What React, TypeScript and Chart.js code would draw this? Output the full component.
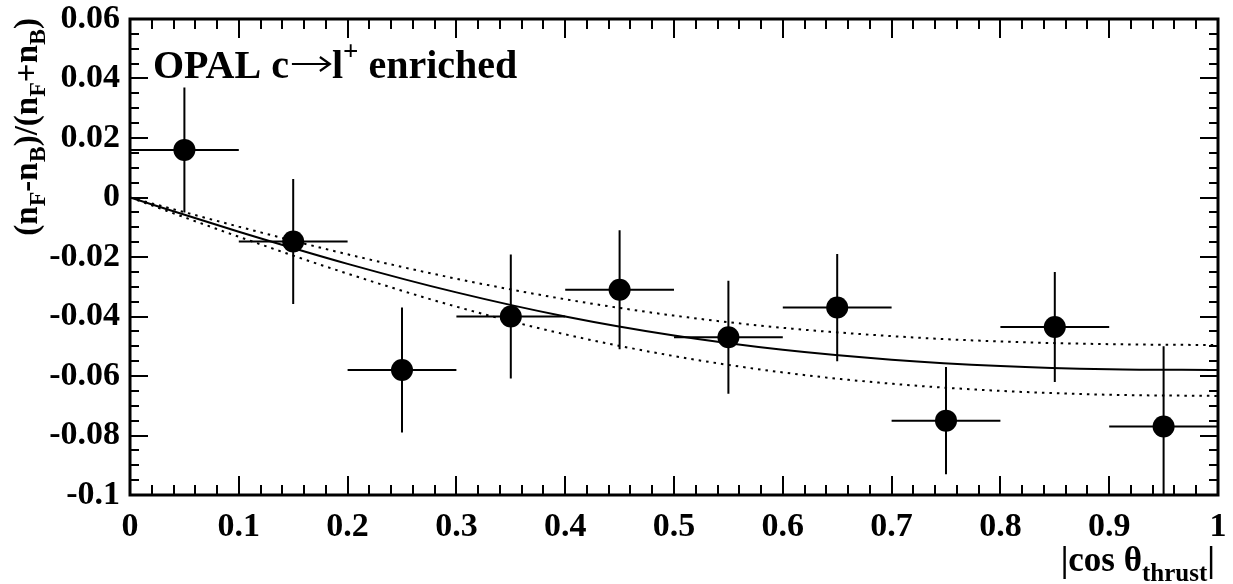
import { useEffect, useRef } from "react";
import { Chart, registerables } from "chart.js";

Chart.register(...registerables);

// ---- data ----
const binCenters = [0.05, 0.15, 0.25, 0.35, 0.45, 0.55, 0.65, 0.75, 0.85, 0.95];
const binHalfWidths = [0.05, 0.05, 0.05, 0.05, 0.05, 0.05, 0.05, 0.05, 0.05, 0.05];
const asymmetry = [0.016, -0.0148, -0.058, -0.04, -0.031, -0.047, -0.037, -0.075, -0.0435, -0.077];
const asymmetryErr = [0.021, 0.021, 0.021, 0.0208, 0.02, 0.019, 0.018, 0.018, 0.0185, 0.027];

const curveX = [0, 0.1, 0.2, 0.3, 0.4, 0.5, 0.6, 0.7, 0.8, 0.9, 1.0];
const fitCentral = [0, -0.0115, -0.0223, -0.0319, -0.04, -0.0464, -0.0512, -0.0545, -0.0566, -0.0577, -0.058];
const fitUpper = [0, -0.0098, -0.0191, -0.0273, -0.0342, -0.0397, -0.0438, -0.0466, -0.0484, -0.0493, -0.0496];
const fitLower = [0, -0.0132, -0.0256, -0.0367, -0.046, -0.0533, -0.0588, -0.0626, -0.065, -0.0663, -0.0667];

const xTickLabels: Record<string, string> = {
  "0": "0", "0.1": "0.1", "0.2": "0.2", "0.3": "0.3", "0.4": "0.4", "0.5": "0.5",
  "0.6": "0.6", "0.7": "0.7", "0.8": "0.8", "0.9": "0.9", "1": "1",
};
const yTickLabels: Record<string, string> = {
  "0.06": "0.06", "0.04": "0.04", "0.02": "0.02", "0": "0", "-0.02": "-0.02",
  "-0.04": "-0.04", "-0.06": "-0.06", "-0.08": "-0.08", "-0.1": "-0.1",
};

const FONT = '"Liberation Serif", "Times New Roman", Times, serif';

type Seg = { t: string; size: number; dy: number };

function segWidth(ctx: CanvasRenderingContext2D, segs: Seg[]) {
  let w = 0;
  for (const s of segs) {
    ctx.font = `bold ${s.size}px ${FONT}`;
    w += ctx.measureText(s.t).width;
  }
  return w;
}

function drawSegs(ctx: CanvasRenderingContext2D, segs: Seg[], x: number, y: number) {
  let cx = x;
  ctx.textBaseline = "alphabetic";
  ctx.textAlign = "left";
  for (const s of segs) {
    ctx.font = `bold ${s.size}px ${FONT}`;
    ctx.fillText(s.t, cx, y + s.dy);
    cx += ctx.measureText(s.t).width;
  }
  return cx;
}

const key = (v: number) => String(Math.round(v * 1000) / 1000);

const decorPlugin = {
  id: "rootDecor",
  beforeDatasetsDraw(chart: any) {
    const { ctx, chartArea: a, scales } = chart;
    const xs = scales.x;
    const ys = scales.y;
    ctx.save();
    ctx.beginPath();
    ctx.rect(a.left, a.top, a.right - a.left, a.bottom - a.top);
    ctx.clip();
    ctx.strokeStyle = "#000";
    ctx.lineWidth = 2;
    for (let i = 0; i < binCenters.length; i++) {
      const px = xs.getPixelForValue(binCenters[i]);
      const py = ys.getPixelForValue(asymmetry[i]);
      const x0 = xs.getPixelForValue(binCenters[i] - binHalfWidths[i]);
      const x1 = xs.getPixelForValue(binCenters[i] + binHalfWidths[i]);
      const y0 = ys.getPixelForValue(asymmetry[i] + asymmetryErr[i]);
      const y1 = ys.getPixelForValue(asymmetry[i] - asymmetryErr[i]);
      ctx.beginPath();
      ctx.moveTo(x0, py);
      ctx.lineTo(x1, py);
      ctx.moveTo(px, y0);
      ctx.lineTo(px, y1);
      ctx.stroke();
    }
    ctx.restore();
  },
  afterDraw(chart: any) {
    const { ctx, chartArea: a, scales } = chart;
    const xs = scales.x;
    const ys = scales.y;
    ctx.save();
    ctx.strokeStyle = "#000";
    ctx.fillStyle = "#000";
    // ticks
    ctx.lineWidth = 2;
    ctx.beginPath();
    for (let i = 0; i <= 50; i++) {
      const v = i * 0.02;
      const px = Math.round(xs.getPixelForValue(v));
      const len = i % 5 === 0 ? 19 : 10;
      ctx.moveTo(px, a.bottom);
      ctx.lineTo(px, a.bottom - len);
      ctx.moveTo(px, a.top);
      ctx.lineTo(px, a.top + len);
    }
    for (let i = 0; i <= 32; i++) {
      const v = -0.1 + i * 0.005;
      const py = Math.round(ys.getPixelForValue(v));
      const len = i % 4 === 0 ? 18 : 9;
      ctx.moveTo(a.left, py);
      ctx.lineTo(a.left + len, py);
      ctx.moveTo(a.right, py);
      ctx.lineTo(a.right - len, py);
    }
    ctx.stroke();
    // frame
    ctx.lineWidth = 3;
    ctx.strokeRect(a.left, a.top, a.right - a.left, a.bottom - a.top);

    // label inside the plot: OPAL c -> l+ enriched
    const base = 78;
    let cx = drawSegs(ctx, [{ t: "OPAL c", size: 40, dy: 0 }], 153, base);
    const ax0 = cx + 3;
    const ax1 = ax0 + 38;
    const ay = base - 14;
    ctx.lineWidth = 2.2;
    ctx.beginPath();
    ctx.moveTo(ax0, ay);
    ctx.lineTo(ax1, ay);
    ctx.moveTo(ax1 - 10, ay - 7);
    ctx.lineTo(ax1, ay);
    ctx.lineTo(ax1 - 10, ay + 7);
    ctx.stroke();
    cx = ax1 + 2;
    drawSegs(
      ctx,
      [
        { t: "l", size: 40, dy: 0 },
        { t: "+", size: 27, dy: -18 },
        { t: " enriched", size: 40, dy: 0 },
      ],
      cx,
      base
    );

    // x title
    const xt: Seg[] = [
      { t: "|cos \u03b8", size: 35, dy: 0 },
      { t: "thrust", size: 25, dy: 10 },
      { t: "|", size: 35, dy: 0 },
    ];
    const xw = segWidth(ctx, xt);
    drawSegs(ctx, xt, 1215 - xw, 571);

    // y title (rotated)
    const yt: Seg[] = [
      { t: "(n", size: 33, dy: 0 },
      { t: "F", size: 24, dy: 8 },
      { t: "-n", size: 33, dy: 0 },
      { t: "B", size: 24, dy: 8 },
      { t: ")/(n", size: 33, dy: 0 },
      { t: "F", size: 24, dy: 8 },
      { t: "+n", size: 33, dy: 0 },
      { t: "B", size: 24, dy: 8 },
      { t: ")", size: 33, dy: 0 },
    ];
    const yw = segWidth(ctx, yt);
    ctx.translate(37, 18 + yw);
    ctx.rotate(-Math.PI / 2);
    drawSegs(ctx, yt, 0, 0);
    ctx.restore();
  },
};

export default function App() {
  const ref = useRef<HTMLCanvasElement | null>(null);

  useEffect(() => {
    if (!ref.current) return;
    const points = binCenters.map((x, i) => ({ x, y: asymmetry[i] }));
    const mk = (ys: number[]) => curveX.map((x, i) => ({ x, y: ys[i] }));
    const chart = new Chart(ref.current, {
      type: "scatter",
      data: {
        datasets: [
          {
            type: "line",
            data: mk(fitUpper),
            borderColor: "#000",
            borderWidth: 2,
            borderDash: [2.5, 5],
            pointRadius: 0,
            cubicInterpolationMode: "monotone",
            fill: false,
          },
          {
            type: "line",
            data: mk(fitLower),
            borderColor: "#000",
            borderWidth: 2,
            borderDash: [2.5, 5],
            pointRadius: 0,
            cubicInterpolationMode: "monotone",
            fill: false,
          },
          {
            type: "line",
            data: mk(fitCentral),
            borderColor: "#000",
            borderWidth: 2,
            pointRadius: 0,
            cubicInterpolationMode: "monotone",
            fill: false,
          },
          {
            data: points,
            backgroundColor: "#000",
            borderColor: "#000",
            borderWidth: 0,
            pointRadius: 11,
            pointHoverRadius: 11,
          },
        ],
      } as any,
      options: {
        animation: false,
        responsive: false,
        devicePixelRatio: 1,
        events: [],
        layout: { padding: { left: 0, right: 15, top: 19, bottom: 0 } },
        plugins: { legend: { display: false }, tooltip: { enabled: false } },
        scales: {
          x: {
            type: "linear",
            min: 0,
            max: 1,
            grid: { display: false, drawTicks: false },
            border: { display: false },
            ticks: {
              stepSize: 0.1,
              padding: 12,
              color: "#000",
              font: { family: FONT, size: 34, weight: "bold" },
              maxRotation: 0,
              autoSkip: false,
              callback: (v: any) => xTickLabels[key(Number(v))] ?? "",
            },
            afterFit: (s: any) => {
              s.height = 89;
              s.paddingLeft = 0;
              s.paddingRight = 0;
            },
          },
          y: {
            type: "linear",
            min: -0.1,
            max: 0.06,
            grid: { display: false, drawTicks: false },
            border: { display: false },
            ticks: {
              stepSize: 0.02,
              padding: 10,
              color: "#000",
              font: { family: FONT, size: 34, weight: "bold" },
              autoSkip: false,
              callback: (v: any) => yTickLabels[key(Number(v))] ?? "",
            },
            afterFit: (s: any) => {
              s.width = 130;
              s.paddingTop = 0;
              s.paddingBottom = 0;
            },
          },
        },
      } as any,
      plugins: [decorPlugin],
    });
    return () => chart.destroy();
  }, []);

  return (
    <div style={{ position: "absolute", left: 0, top: 0, width: 1233, height: 584, background: "#fff" }}>
      <canvas ref={ref} width={1233} height={584} style={{ width: 1233, height: 584, display: "block" }} />
    </div>
  );
}
